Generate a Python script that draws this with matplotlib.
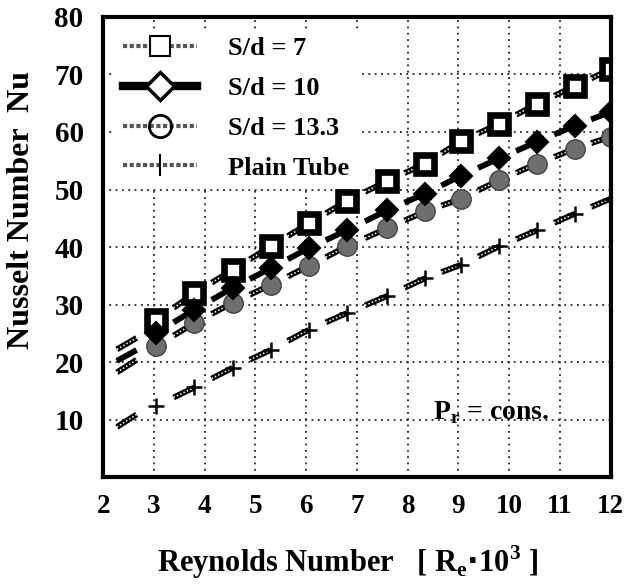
import numpy as np
import matplotlib
matplotlib.use("Agg")
import matplotlib.pyplot as plt
from matplotlib.lines import Line2D

plt.rcParams['font.family'] = ['Liberation Serif', 'DejaVu Serif']
plt.rcParams['font.weight'] = 'bold'

DPI = 100

# Reynolds number [Re * 10^3]
re = [3.05, 3.8, 4.55, 5.3, 6.05, 6.8, 7.6, 8.35, 9.05, 9.8, 10.55, 11.3, 12.0]

nu_sd7 = [27.3, 32.0, 36.0, 40.1, 44.1, 48.0, 51.5, 54.5, 58.4, 61.4, 64.9, 68.0, 70.9]
nu_sd10 = [25.1, 29.1, 32.9, 36.3, 39.8, 42.9, 46.4, 49.3, 52.4, 55.4, 58.3, 61.1, 63.5]
nu_sd13 = [22.8, 26.8, 30.3, 33.4, 36.7, 40.1, 43.3, 46.2, 48.4, 51.6, 54.5, 57.1, 59.2]
nu_plain = [12.4, 15.6, 19.0, 22.1, 25.6, 28.5, 31.5, 34.6, 36.9, 40.1, 42.9, 45.8, 48.4]

# short leading strokes of each curve, left of the first marker
lead_re = [2.27, 2.66]
lead_sd7 = [22.2, 24.2]
lead_sd10 = [20.2, 22.1]
lead_sd13 = [18.2, 20.4]
lead_plain = [8.7, 10.9]

labels = ['S/d = 7', 'S/d = 10', 'S/d = 13.3', 'Plain Tube']
xticks = [2, 3, 4, 5, 6, 7, 8, 9, 10, 11, 12]
yticks = [10, 20, 30, 40, 50, 60, 70, 80]


def strokes(x, y, lx, ly, start=0.45):
    # dashes that run into each marker from the lower left
    xs, ys = list(lx) + [np.nan], list(ly) + [np.nan]
    for i in range(1, len(x)):
        xs += [x[i-1] + start * (x[i] - x[i-1]), x[i], np.nan]
        ys += [y[i-1] + start * (y[i] - y[i-1]), y[i], np.nan]
    return xs, ys


fig = plt.figure(figsize=(625/DPI, 584/DPI), dpi=DPI)
ax = fig.add_axes([0.165, 0.183, 0.812, 0.788])
ax.set_xlim(2, 12)
ax.set_ylim(0, 80)

# dotted grid
for v in xticks[1:-1]:
    ax.axvline(v, color='#222222', lw=1.3, ls=(0, (1, 2.5)), zorder=1)
for v in yticks[:-1]:
    ax.axhline(v, color='#222222', lw=1.3, ls=(0, (1, 2.5)), zorder=1)

series = [
    (nu_sd7, lead_sd7, 'chain'),
    (nu_sd10, lead_sd10, 'solid'),
    (nu_sd13, lead_sd13, 'chain'),
    (nu_plain, lead_plain, 'chain'),
]
for y, ly, style in series:
    xs, ys = strokes(re, y, lead_re, ly)
    ax.plot(xs, ys, color='black', lw=4.2, solid_capstyle='butt', zorder=3)
    if style == 'chain':
        ax.plot(xs, ys, color='white', lw=1.1, ls=(0, (1, 1.4)), zorder=4)

ax.plot(re, nu_sd7, ls='none', marker='s', ms=12.5, mfc='white', mec='black', mew=4.8, zorder=6)
ax.plot(re, nu_sd10, ls='none', marker='D', ms=11, mfc='black', mec='black', mew=1.5, zorder=6)
ax.plot(re, nu_sd13, ls='none', marker='o', ms=14, mfc='#6e6e6e', mec='#444444', mew=1.0, zorder=5)
ax.plot(re, nu_plain, ls='none', marker='+', ms=12, mec='black', mew=1.8, zorder=6)

handles = [
    Line2D([], [], color='#555555', lw=3, ls=(0, (1, 0.6)), marker='s', ms=15, mfc='white', mec='black', mew=1.5),
    Line2D([], [], color='black', lw=6, marker='D', ms=14, mfc='white', mec='black', mew=2.5),
    Line2D([], [], color='#555555', lw=3, ls=(0, (1, 0.6)), marker='o', ms=16, mfc='none', mec='black', mew=2),
    Line2D([], [], color='#555555', lw=3, ls=(0, (1, 0.6)), marker='|', ms=16, mec='black', mew=1.5),
]
leg = ax.legend(handles, labels, loc='upper left', bbox_to_anchor=(0.0, 1.0), frameon=True,
                facecolor='white', edgecolor='none', framealpha=1.0, fancybox=False,
                prop={'family': 'Liberation Serif', 'weight': 'bold', 'size': 19},
                handlelength=2.8, handletextpad=1.2, labelspacing=0.62, borderaxespad=0.45,
                borderpad=0.3)
leg.set_zorder(2)

ax.text(0.65, 0.125, r'P$_\mathregular{r}$ = cons.', transform=ax.transAxes,
        fontsize=20, fontweight='bold', ha='left', va='baseline')

ax.set_xticks(xticks)
ax.set_yticks(yticks)
ax.tick_params(axis='x', length=0, labelsize=19.5, pad=12)
ax.tick_params(axis='y', length=0, labelsize=21, pad=14)
for lab in ax.get_xticklabels() + ax.get_yticklabels():
    lab.set_fontweight('bold')

for s in ax.spines.values():
    s.set_linewidth(3)
    s.set_color('black')
    s.set_zorder(8)

fig.text(22/625, 1 - 210/584, 'Nusselt Number  Nu', rotation=90, ha='center', va='center',
         fontsize=23, fontweight='bold')
fig.text(348/625, 1 - 572/584, r'Reynolds Number   [ R$_\mathregular{e}$$\bullet$10$^\mathregular{3}$ ]',
         ha='center', va='baseline', fontsize=22, fontweight='bold')

plt.savefig('out.png', dpi=DPI)
